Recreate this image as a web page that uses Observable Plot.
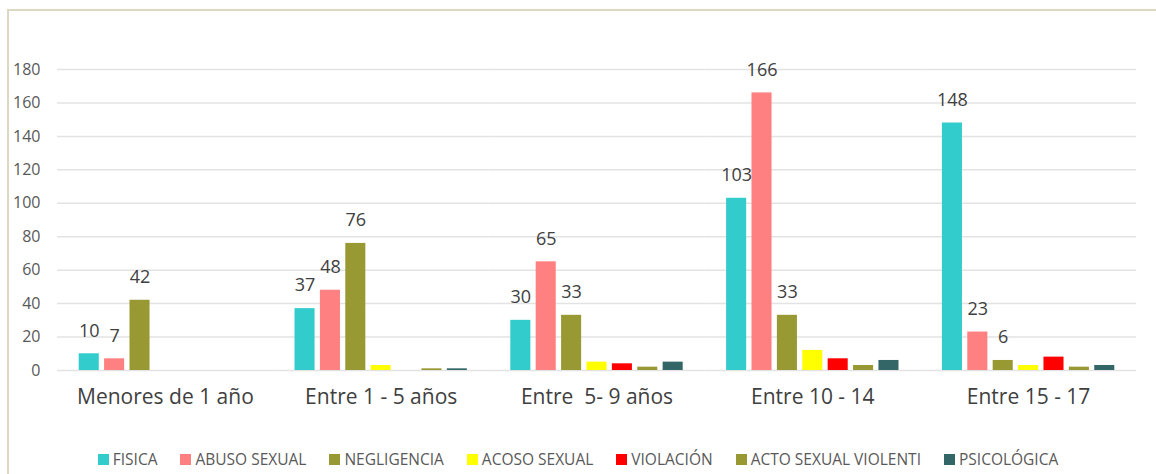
<!DOCTYPE html>
<html>
<head>
<meta charset="utf-8">
<script src="https://cdn.jsdelivr.net/npm/d3@7"></script>
<script src="https://cdn.jsdelivr.net/npm/@observablehq/plot@0.6"></script>
<style>
  html, body { margin: 0; padding: 0; background: #fff; }
  body { width: 1156px; height: 474px; position: relative; overflow: hidden; font-family: "Open Sans", sans-serif; }
  #frame { position: absolute; left: 7px; top: 9px; width: 1149px; height: 465px; border-left: 2px solid #ddd8c2; border-top: 2px solid #ddd8c2; box-sizing: border-box; }
  #chart { position: absolute; left: 0; top: 0; }
  svg text { white-space: pre; }
  #legend { position: absolute; left: 0; top: 448px; width: 1156px; display: flex; justify-content: center; gap: 23px; font-size: 15.5px; color: #595959; }
  .item { display: flex; align-items: center; }
  .sw { width: 11px; height: 11px; margin-right: 4px; }
</style>
</head>
<body>
<div id="frame"></div>
<div id="chart"></div>
<div id="legend"></div>
<script>
const groups = ["Menores de 1 año", "Entre 1 - 5 años", "Entre  5- 9 años", "Entre 10 - 14", "Entre 15 - 17"];
const series = ["FISICA", "ABUSO SEXUAL", "NEGLIGENCIA", "ACOSO SEXUAL", "VIOLACIÓN", "ACTO SEXUAL VIOLENTI", "PSICOLÓGICA"];
const colors = ["#33cccc", "#ff8080", "#999933", "#ffff00", "#ff0000", "#999933", "#336666"];
const fisica      = [10, 37, 30, 103, 148];
const abuso       = [7, 48, 65, 166, 23];
const negligencia = [42, 76, 33, 33, 6];
const acoso       = [0, 3, 5, 12, 3];
const violacion   = [0, 0, 4, 7, 8];
const acto        = [0, 1, 2, 3, 2];
const psicologica = [0, 1, 5, 6, 3];
const yTicks = [0, 20, 40, 60, 80, 100, 120, 140, 160, 180];
const labeled = ["FISICA", "ABUSO SEXUAL", "NEGLIGENCIA"];

const valuesBySeries = [fisica, abuso, negligencia, acoso, violacion, acto, psicologica];
const data = [];
groups.forEach((g, gi) => {
  series.forEach((s, si) => {
    data.push({group: g, serie: s, value: valuesBySeries[si][gi]});
  });
});

const chart = Plot.plot({
  width: 1156,
  height: 440,
  marginTop: 69,
  marginBottom: 70,
  marginLeft: 57,
  marginRight: 20,
  style: {fontFamily: "'Open Sans', sans-serif", color: "#595959", background: "transparent"},
  fx: {domain: groups, padding: 0, round: false, label: null},
  x: {domain: series, paddingInner: 0.21, paddingOuter: 0.855, round: false, axis: null},
  y: {domain: [0, 180], label: null},
  color: {domain: series, range: colors},
  marks: [
    Plot.ruleY(yTicks, {stroke: "#e3e3e3", strokeWidth: 1.5}),
    Plot.axisY({ticks: yTicks, tickSize: 0, tickPadding: 17, fontSize: 16, fill: "#595959", label: null}),
    Plot.axisFx({anchor: "bottom", tickSize: 0, tickPadding: 19, fontSize: 21, fill: "#404040", label: null}),
    Plot.barY(data, {fx: "group", x: "serie", y: "value", fill: "serie"}),
    Plot.text(data.filter(d => labeled.includes(d.serie)), {
      fx: "group", x: "serie", y: "value", text: d => String(d.value),
      dy: -23, fontSize: 18, fill: "#404040"
    })
  ]
});
document.getElementById("chart").appendChild(chart);

const legend = document.getElementById("legend");
series.forEach((s, i) => {
  const it = document.createElement("div");
  it.className = "item";
  const sw = document.createElement("span");
  sw.className = "sw";
  sw.style.background = colors[i];
  const tx = document.createElement("span");
  tx.textContent = s;
  it.appendChild(sw);
  it.appendChild(tx);
  legend.appendChild(it);
});
</script>
</body>
</html>
